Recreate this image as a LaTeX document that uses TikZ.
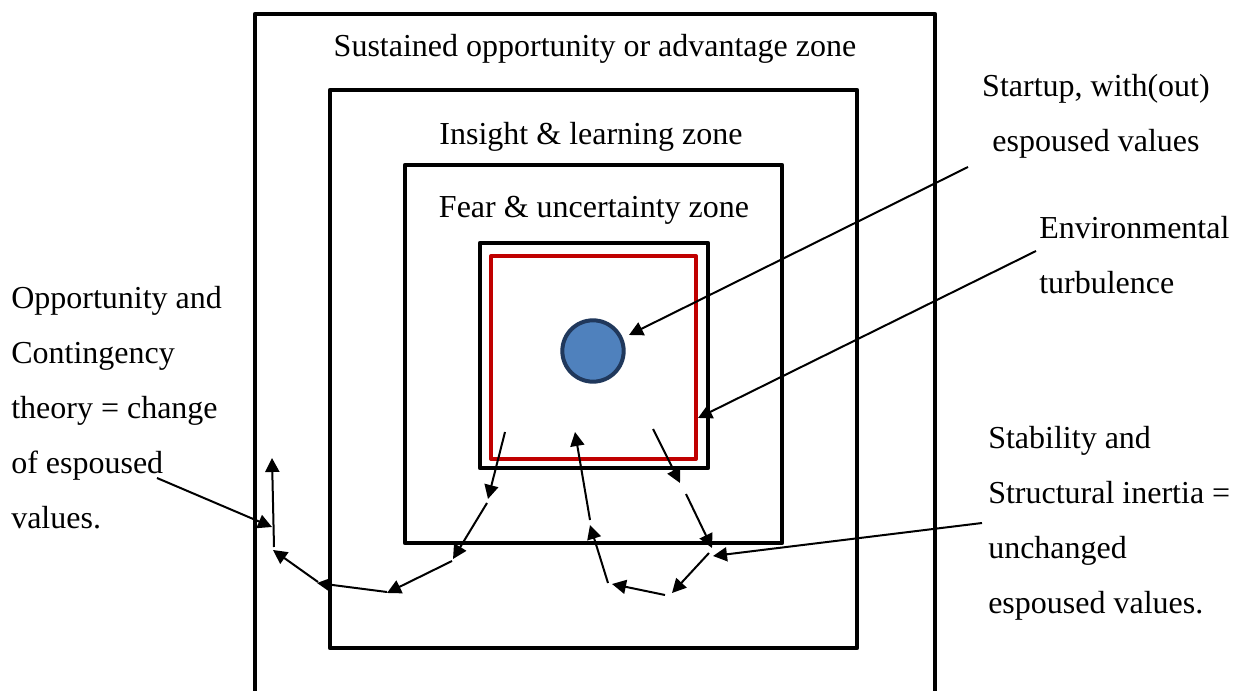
\documentclass[tikz,border=0pt]{standalone}
\usepackage{fontspec}
\setmainfont{Liberation Serif}
\usetikzlibrary{arrows.meta}
\definecolor{zonered}{RGB}{192,0,0}
\definecolor{startfill}{RGB}{79,129,189}
\definecolor{startedge}{RGB}{32,56,92}
\begin{document}
\begin{tikzpicture}[x=0.75pt,y=-0.75pt,
  zone/.style={draw=black,line width=3.2pt,line join=round},
  flow/.style={line width=1.5pt,-{Triangle[length=10.5pt,width=10.5pt]}},
  lbl/.style={font=\fontsize{24}{41.25}\selectfont,inner sep=0pt}]
\useasboundingbox (0,0) rectangle (1242,691);

% nested zones
\draw[zone] (255,700) -- (255,14) -- (935,14) -- (935,700);
\draw[zone] (330,90) rectangle (857,648);
\draw[zone] (405,165) rectangle (782,543);
\draw[zone] (480,243) rectangle (708,468);
\draw[draw=zonered,line width=3pt,line join=round] (491,256) rectangle (696,459);

% the startup
\node[circle,draw=startedge,line width=3pt,fill=startfill,minimum size=46pt,inner sep=0pt] (startup) at (593,351) {};

% zone titles
\node[lbl,anchor=base] (sust) at (595,57) {Sustained opportunity or advantage zone};
\node[lbl,anchor=base] (insight) at (591,145) {Insight \& learning zone};
\node[lbl,anchor=base] (fear) at (594,218) {Fear \& uncertainty zone};

% side labels (anchored on the baseline of their last line)
\node[lbl,align=center,anchor=base] (startlbl) at (1096,152) {Startup, with(out)\\espoused values};
\node[lbl,align=left,anchor=base west] (envlbl) at (1039,294) {Environmental\\turbulence};
\node[lbl,align=left,anchor=base west] (opplbl) at (11,528) {Opportunity and\\Contingency\\theory = change\\of espoused\\values.};
\node[lbl,align=left,anchor=base west] (stablbl) at (988,613) {Stability and\\Structural inertia =\\unchanged\\espoused values.};

% label leaders
\coordinate (s0) at (968,167);  \coordinate (s1) at (629,335);
\coordinate (e0) at (1036,251); \coordinate (e1) at (698,418);
\coordinate (o0) at (157,478);  \coordinate (o1) at (272,527);
\coordinate (t0) at (982,523);  \coordinate (t1) at (713,556);
\draw[flow] (s0) -- (s1);
\draw[flow] (e0) -- (e1);
\draw[flow] (o0) -- (o1);
\draw[flow] (t0) -- (t1);

% path out to the left: changing values
\coordinate (a0) at (505,432); \coordinate (a1) at (488,499);
\coordinate (b0) at (487,503); \coordinate (b1) at (453,559);
\coordinate (c0) at (452,561); \coordinate (c1) at (387,593);
\coordinate (d0) at (387,592); \coordinate (d1) at (317,583);
\coordinate (f0) at (318,582); \coordinate (f1) at (273,550);
\coordinate (g0) at (274,547); \coordinate (g1) at (272,458);
\draw[flow] (a0) -- (a1);
\draw[flow] (b0) -- (b1);
\draw[flow] (c0) -- (c1);
\draw[flow] (d0) -- (d1);
\draw[flow] (f0) -- (f1);
\draw[flow] (g0) -- (g1);

% loop back to the centre: unchanged values
\coordinate (l0) at (653,429); \coordinate (l1) at (680,483);
\coordinate (m0) at (686,494); \coordinate (m1) at (712,548);
\coordinate (k0) at (709,553); \coordinate (k1) at (672,593);
\coordinate (j0) at (665,595); \coordinate (j1) at (612,584);
\coordinate (i0) at (608,583); \coordinate (i1) at (590,525);
\coordinate (h0) at (590,520); \coordinate (h1) at (575,432);
\draw[flow] (l0) -- (l1);
\draw[flow] (m0) -- (m1);
\draw[flow] (k0) -- (k1);
\draw[flow] (j0) -- (j1);
\draw[flow] (i0) -- (i1);
\draw[flow] (h0) -- (h1);
\end{tikzpicture}
\end{document}
